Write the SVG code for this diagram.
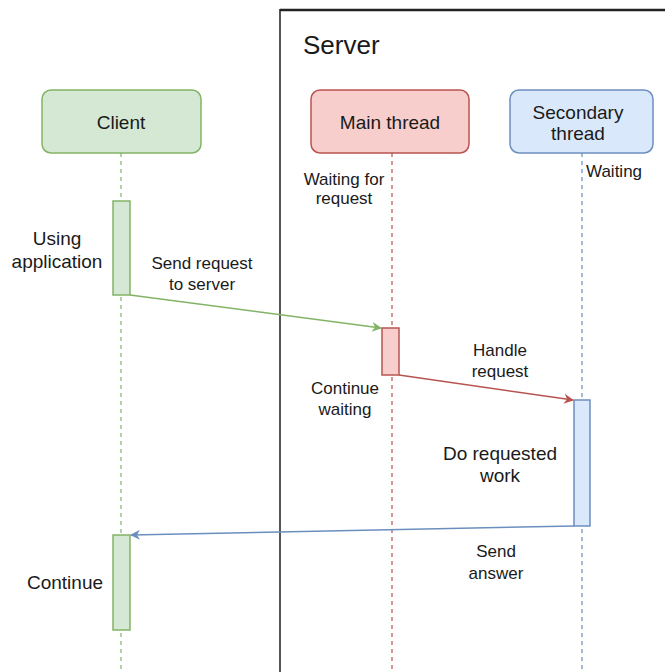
<svg xmlns="http://www.w3.org/2000/svg" width="665" height="672" viewBox="0 0 665 672">
<style>
text{font-family:"Liberation Sans",Arial,sans-serif;fill:#1a1a1a;text-anchor:middle}
.h{font-size:19px}
.s{font-size:17px}
.life{fill:none;stroke-width:1.2;stroke-dasharray:4 4}
.g{stroke:#82b366}.gf{fill:#d5e8d4;stroke:#82b366;stroke-width:1.5}
.r{stroke:#b85450}.rf{fill:#f8cecc;stroke:#b85450;stroke-width:1.5}
.b{stroke:#6c8ebf}.bf{fill:#dae8fc;stroke:#6c8ebf;stroke-width:1.5}
.msg{fill:none;stroke-width:1.5}
</style>
<defs>
<marker id="ag" viewBox="0 0 10 10" refX="9" refY="5" markerWidth="10" markerHeight="10" markerUnits="userSpaceOnUse" orient="auto"><path d="M0,0 L10,5 L0,10 L3,5 Z" fill="#82b366"/></marker>
<marker id="ar" viewBox="0 0 10 10" refX="9" refY="5" markerWidth="10" markerHeight="10" markerUnits="userSpaceOnUse" orient="auto"><path d="M0,0 L10,5 L0,10 L3,5 Z" fill="#b85450"/></marker>
<marker id="ab" viewBox="0 0 10 10" refX="9" refY="5" markerWidth="10" markerHeight="10" markerUnits="userSpaceOnUse" orient="auto"><path d="M0,0 L10,5 L0,10 L3,5 Z" fill="#6c8ebf"/></marker>
</defs>
<rect width="665" height="672" fill="#fff"/>
<g id="server">
<rect x="280" y="10" width="400" height="680" fill="none" stroke="#555" stroke-width="2"/>
<line x1="280" y1="10" x2="665" y2="10" stroke="#222" stroke-width="2.5"/>
<text x="303" y="54" style="font-size:26px;text-anchor:start">Server</text>
</g>
<g id="lifelines">
<line class="life g" x1="121" y1="153" x2="121" y2="672"/>
<line class="life r" x1="392" y1="153" x2="392" y2="672"/>
<line class="life b" x1="582" y1="153" x2="582" y2="672"/>
</g>
<g id="client">
<rect class="gf" x="42" y="90" width="159" height="63" rx="9"/>
<text class="h" x="121" y="129">Client</text>
</g>
<g id="main-thread">
<rect class="rf" x="311" y="90" width="158" height="63" rx="9"/>
<text class="h" x="390" y="129">Main thread</text>
</g>
<g id="secondary-thread">
<rect class="bf" x="510" y="90" width="143" height="63" rx="9"/>
<text class="h" x="578" y="119">Secondary</text>
<text class="h" x="578" y="140">thread</text>
</g>
<g id="client-act1"><rect class="gf" x="113" y="201" width="17" height="94"/></g>
<g id="main-act"><rect class="rf" x="382" y="328" width="17" height="47"/></g>
<g id="secondary-act"><rect class="bf" x="574" y="400" width="16" height="126"/></g>
<g id="client-act2"><rect class="gf" x="113" y="535" width="17" height="95"/></g>
<g id="connectors">
<line class="msg g" x1="130" y1="295" x2="381" y2="328" marker-end="url(#ag)"/>
<line class="msg r" x1="399" y1="375" x2="573" y2="400" marker-end="url(#ar)"/>
<line class="msg b" x1="574" y1="526" x2="131" y2="535" marker-end="url(#ab)"/>
</g>
<g id="labels">
<text class="h" x="57" y="245">Using</text>
<text class="h" x="57" y="268">application</text>
<text class="s" x="202" y="269">Send request</text>
<text class="s" x="202" y="290">to server</text>
<text class="s" x="344" y="185">Waiting for</text>
<text class="s" x="344" y="204">request</text>
<text class="s" x="586" y="177" style="text-anchor:start">Waiting</text>
<text class="s" x="500" y="356">Handle</text>
<text class="s" x="500" y="377">request</text>
<text class="s" x="345" y="394">Continue</text>
<text class="s" x="345" y="415">waiting</text>
<text class="h" x="500" y="460">Do requested</text>
<text class="h" x="500" y="482">work</text>
<text class="s" x="496" y="557">Send</text>
<text class="s" x="496" y="579">answer</text>
<text class="h" x="65" y="589">Continue</text>
</g>
</svg>
